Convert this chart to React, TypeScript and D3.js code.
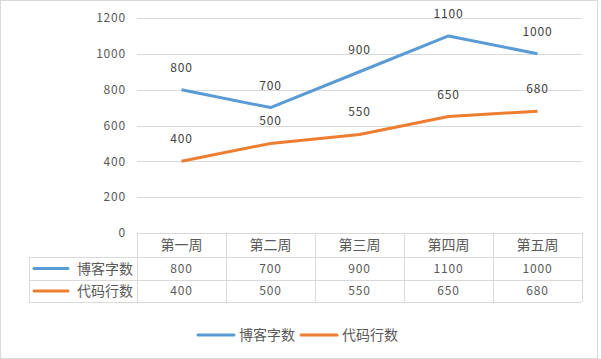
import * as d3 from "d3";
import React, { useRef, useEffect } from "react";

const weeks = ["第一周", "第二周", "第三周", "第四周", "第五周"];
const seriesNames = ["博客字数", "代码行数"];
const blogWords = [800, 700, 900, 1100, 1000];
const codeLines = [400, 500, 550, 650, 680];
const yTicks = [0, 200, 400, 600, 800, 1000, 1200];
const colors = ["#5B9BD5", "#ED7D31"];

const App = () => {
  const svgRef = useRef(null);
  const w = 601;
  const h = 359;
  const font = "'Noto Sans CJK SC', 'Noto Sans', sans-serif";

  useEffect(() => {
    const svg = d3.select(svgRef.current);
    svg.selectAll("*").remove();

    const left = 137;
    const right = 582;
    const top = 18;
    const bottom = 233;
    const rowH = [24, 23, 22];

    const xScale = d3.scaleBand().domain(weeks).range([left, right]);
    const yScale = d3.scaleLinear().domain([0, 1200]).range([bottom, top]);

    // chart border
    svg.append("rect")
      .attr("x", 0.5).attr("y", 0.5)
      .attr("width", w - 4).attr("height", h - 1)
      .attr("fill", "#fff")
      .attr("stroke", "#d9d9d9");

    // gridlines
    svg.append("g")
      .selectAll("line")
      .data(yTicks.filter(d => d > 0))
      .enter()
      .append("line")
      .attr("x1", left).attr("x2", right)
      .attr("y1", d => Math.round(yScale(d)) + 0.5)
      .attr("y2", d => Math.round(yScale(d)) + 0.5)
      .attr("stroke", "#d9d9d9");

    // y tick labels
    svg.append("g")
      .selectAll("text")
      .data(yTicks)
      .enter()
      .append("text")
      .attr("x", 126)
      .attr("y", d => yScale(d))
      .attr("dy", "0.35em")
      .attr("text-anchor", "end")
      .attr("fill", "#595959")
      .attr("font-size", 12)
      .attr("letter-spacing", 0.8)
      .attr("font-family", font)
      .text(d => d);

    const all = [blogWords, codeLines];
    const line = d3.line<number>()
      .x((d, i) => xScale(weeks[i])! + xScale.bandwidth() / 2)
      .y(d => yScale(d));

    all.forEach((vals, si) => {
      svg.append("path")
        .datum(vals)
        .attr("d", line)
        .attr("fill", "none")
        .attr("stroke", colors[si])
        .attr("stroke-width", 3)
        .attr("stroke-linejoin", "round");

      svg.append("g")
        .selectAll("text")
        .data(vals)
        .enter()
        .append("text")
        .attr("x", (d, i) => xScale(weeks[i])! + xScale.bandwidth() / 2)
        .attr("y", d => yScale(d) - 18)
        .attr("text-anchor", "middle")
        .attr("fill", "#404040")
        .attr("font-size", 12)
        .attr("letter-spacing", 0.8)
        .attr("font-family", font)
        .text(d => d);
    });

    // data table
    const rows = [bottom, bottom + rowH[0], bottom + rowH[0] + rowH[1], bottom + rowH[0] + rowH[1] + rowH[2]];
    const grid = svg.append("g").attr("stroke", "#d9d9d9").attr("fill", "none");
    grid.append("line").attr("x1", left).attr("x2", right).attr("y1", rows[0] + 0.5).attr("y2", rows[0] + 0.5);
    rows.slice(1).forEach(r => {
      grid.append("line").attr("x1", 29).attr("x2", right).attr("y1", r + 0.5).attr("y2", r + 0.5);
    });
    grid.append("line").attr("x1", 29.5).attr("x2", 29.5).attr("y1", rows[1]).attr("y2", rows[3]);
    weeks.forEach(wk => {
      const x = Math.round(xScale(wk)!) + 0.5;
      grid.append("line").attr("x1", x).attr("x2", x).attr("y1", rows[0]).attr("y2", rows[3]);
    });
    grid.append("line").attr("x1", right + 0.5).attr("x2", right + 0.5).attr("y1", rows[0]).attr("y2", rows[3]);

    // header
    svg.append("g")
      .selectAll("text")
      .data(weeks)
      .enter()
      .append("text")
      .attr("x", d => xScale(d)! + xScale.bandwidth() / 2)
      .attr("y", (rows[0] + rows[1]) / 2)
      .attr("dy", "0.36em")
      .attr("text-anchor", "middle")
      .attr("fill", "#595959")
      .attr("font-size", 14)
      .attr("font-family", font)
      .text(d => d);

    all.forEach((vals, si) => {
      const cy = (rows[si + 1] + rows[si + 2]) / 2;
      svg.append("line")
        .attr("x1", 34).attr("x2", 68)
        .attr("y1", cy).attr("y2", cy)
        .attr("stroke", colors[si])
        .attr("stroke-width", 3)
        .attr("stroke-linecap", "round");
      svg.append("text")
        .attr("x", 133).attr("y", cy).attr("dy", "0.36em")
        .attr("text-anchor", "end")
        .attr("fill", "#595959")
        .attr("font-size", 14)
        .attr("font-family", font)
        .text(seriesNames[si]);
      svg.append("g")
        .selectAll("text")
        .data(vals)
        .enter()
        .append("text")
        .attr("x", (d, i) => xScale(weeks[i])! + xScale.bandwidth() / 2)
        .attr("y", cy)
        .attr("dy", "0.36em")
        .attr("text-anchor", "middle")
        .attr("fill", "#595959")
        .attr("font-size", 12)
        .attr("letter-spacing", 0.8)
        .attr("font-family", font)
        .text(d => d);
    });

    // bottom legend
    const legX = [198, 301];
    seriesNames.forEach((name, si) => {
      svg.append("line")
        .attr("x1", legX[si]).attr("x2", legX[si] + 36)
        .attr("y1", 335).attr("y2", 335)
        .attr("stroke", colors[si])
        .attr("stroke-width", 3)
        .attr("stroke-linecap", "round");
      svg.append("text")
        .attr("x", legX[si] + 41).attr("y", 335).attr("dy", "0.36em")
        .attr("fill", "#595959")
        .attr("font-size", 14)
        .attr("font-family", font)
        .text(name);
    });
  });

  return (
    <svg
      ref={svgRef}
      width={w}
      height={h}
      style={{ position: "absolute", left: 0, top: 0, background: "#fff" }}
    />
  );
};

export default App;
